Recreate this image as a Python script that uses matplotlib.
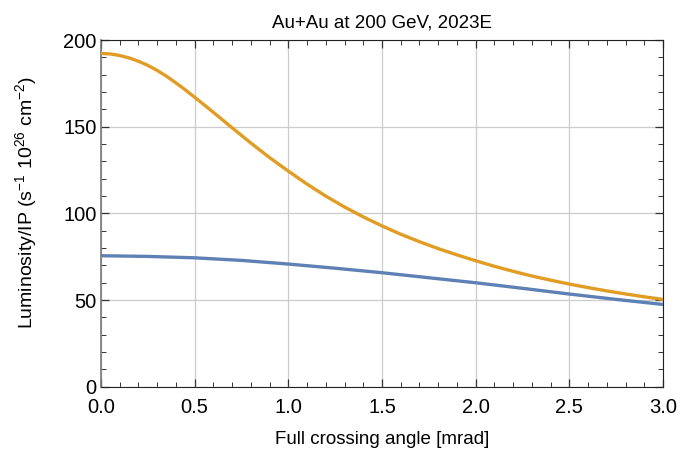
import matplotlib
matplotlib.use('Agg')
import matplotlib.pyplot as plt
from matplotlib.ticker import MultipleLocator

# values
angle_orange = [0.0, 0.05, 0.1, 0.15, 0.2, 0.25, 0.3, 0.35, 0.4, 0.45, 0.5,
                0.55, 0.6, 0.7, 0.8, 0.9, 1.0,
                1.1, 1.2, 1.3, 1.4, 1.5, 1.6, 1.7, 1.8, 1.9, 2.0,
                2.1, 2.2, 2.3, 2.4, 2.5, 2.6, 2.7, 2.8, 2.9, 3.0]
lumi_orange = [192.3, 192.0, 191.1, 189.7, 187.8, 185.4, 182.5, 179.1, 175.3,
               171.3, 167.0, 162.7, 158.3, 149.4, 140.6,
               132.2, 124.4, 116.9, 110.0, 103.7, 98.0, 92.8, 88.0, 83.7,
               79.7, 76.1, 72.7, 69.5, 66.6, 63.9, 61.5, 59.25, 57.2, 55.3,
               53.55, 51.9, 50.4]

angle_blue = [0.0, 0.25, 0.5, 0.75, 1.0, 1.25, 1.5, 1.75, 2.0, 2.25, 2.5,
              2.75, 3.0]
lumi_blue = [75.6, 75.2, 74.4, 72.9, 70.8, 68.4, 65.8, 62.9, 60.0, 56.8, 53.5,
             50.4, 47.5]

BLUE = '#5E81B5'
ORANGE = '#E19C24'

plt.rcParams['font.family'] = ['Liberation Sans', 'DejaVu Sans']
plt.rcParams['mathtext.fontset'] = 'custom'
plt.rcParams['mathtext.rm'] = 'Liberation Sans'
plt.rcParams['mathtext.it'] = 'Liberation Sans:italic'

fig = plt.figure(figsize=(6.8, 4.66), dpi=100)
ax = fig.add_axes([0.1485, 0.170, 0.8265, 0.744])

ax.plot(angle_blue, lumi_blue, color=BLUE, lw=2.4, solid_capstyle='butt',
        solid_joinstyle='round', zorder=3)
ax.plot(angle_orange, lumi_orange, color=ORANGE, lw=2.4, solid_capstyle='butt',
        solid_joinstyle='round', zorder=3)

ax.set_xlim(0, 3)
ax.set_ylim(0, 200)
ax.xaxis.set_major_locator(MultipleLocator(0.5))
ax.xaxis.set_minor_locator(MultipleLocator(0.1))
ax.yaxis.set_major_locator(MultipleLocator(50))
ax.yaxis.set_minor_locator(MultipleLocator(10))
ax.set_xticklabels([f'{v:.1f}' for v in ax.get_xticks()])
ax.grid(True, which='major', color='#cccccc', lw=0.9)

ax.tick_params(which='both', direction='in', top=True, right=True,
               labelsize=14.5, color='#333333')
ax.tick_params(which='major', length=6, width=0.9)
ax.tick_params(which='minor', length=3.5, width=0.7)
ax.tick_params(axis='x', which='major', pad=8)
ax.tick_params(axis='y', which='major', pad=3)
for side in ['top', 'right', 'bottom']:
    ax.spines[side].set_color('#222222')
ax.spines['left'].set_color('#777777')
ax.spines['left'].set_linewidth(1.2)

ax.set_title('Au+Au at 200 GeV, 2023E', fontsize=13.5, pad=9)
ax.set_xlabel('Full crossing angle [mrad]', fontsize=13.5, labelpad=10)
ax.set_ylabel(r'Luminosity/IP (s$^{-1}$ 10$^{26}$ cm$^{-2}$)', fontsize=14)
ax.yaxis.set_label_coords(-0.11, 0.53)

fig.savefig('out.png', dpi=100)
